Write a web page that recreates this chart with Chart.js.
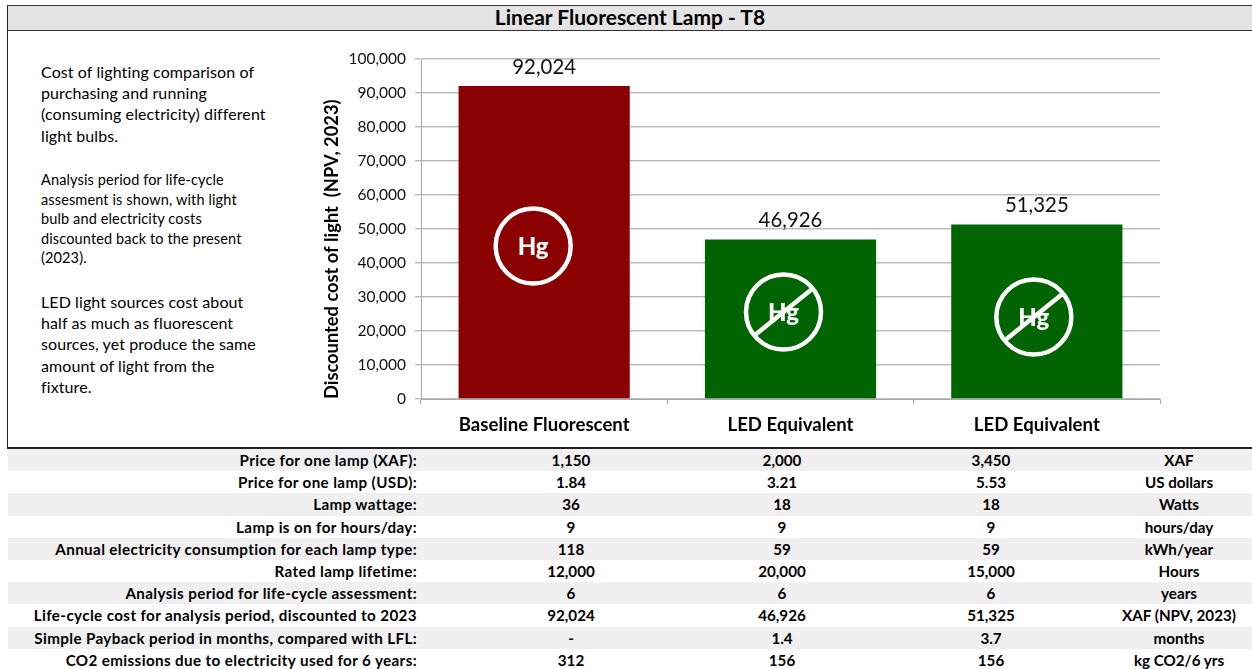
<!DOCTYPE html>
<html><head><meta charset="utf-8">
<style>
html,body{margin:0;padding:0;background:#fff;width:1252px;height:669px;overflow:hidden;font-family:Lato,"Open Sans",sans-serif;color:#000}
#wrap{position:relative;width:1252px;height:669px}
#frame{position:absolute;left:7px;top:5px;width:1245px;height:444px;border-top:1px solid #333;border-left:1px solid #222;border-bottom:2px solid #222;box-sizing:border-box}
#title{position:absolute;left:8px;top:6px;right:0;height:25px;background:#e4e4e4;border-bottom:1px solid #333;text-align:center;font-weight:700;font-size:21px;line-height:21px;box-sizing:border-box}
.p{position:absolute;left:41px;white-space:nowrap}
#p1{top:61px;font-size:16px;line-height:21.2px;letter-spacing:.1px}
#p2{top:170px;font-size:14.5px;line-height:19.5px;letter-spacing:.13px}
#p3{top:291px;font-size:16px;line-height:21.2px;letter-spacing:.1px}
canvas{position:absolute;left:0;top:0}
#table{position:absolute;left:0;top:449px;width:1252px}
.row{position:relative;height:22.2px;font-weight:700;font-size:15.2px;line-height:22.2px;white-space:nowrap}
.row.g{background:linear-gradient(#f0f0f0,#f0f0f0) 8px 0 no-repeat}
.row span{position:absolute;top:0}
.row .l{right:835px;text-align:right;letter-spacing:.38px}
.row .c{width:200px;text-align:center}
</style></head><body>
<div id="wrap">
<div id="frame"></div>
<div id="title"></div>
<div class="p" id="p1"></div><div class="p" id="p2"></div><div class="p" id="p3"></div>
<canvas id="c" width="1252" height="447"></canvas>
<div id="table"></div>
</div>
<script src="https://cdn.jsdelivr.net/npm/chart.js@4/dist/chart.umd.min.js"></script>
<script>
const chartTitle="Linear Fluorescent Lamp - T8";
const categories=["Baseline Fluorescent","LED Equivalent","LED Equivalent"];
const costValues=[92024,46926,51325];
const barColors=["#8b0000","#006400","#006400"];
const mercuryFree=[false,true,true];
const yAxisTitle="Discounted cost of light  (NPV, 2023)";
const noteOne=["Cost of lighting comparison of","purchasing and running","(consuming electricity) different","light bulbs."];
const noteTwo=["Analysis period for life-cycle","assesment is shown, with light","bulb and electricity costs","discounted back to the present","(2023)."];
const noteThree=["LED light sources cost about","half as much as fluorescent","sources, yet produce the same","amount of light from the","fixture."];
const rowLabels=["Price for one lamp (XAF):","Price for one lamp (USD):","Lamp wattage:","Lamp is on for hours/day:","Annual electricity consumption for each lamp type:","Rated lamp lifetime:","Analysis period for life-cycle assessment:","Life-cycle cost for analysis period, discounted to 2023","Simple Payback period in months, compared with LFL:","CO2 emissions due to electricity used for 6 years:"];
const baselineCol=["1,150","1.84","36","9","118","12,000","6","92,024","-","312"];
const ledCol1=["2,000","3.21","18","9","59","20,000","6","46,926","1.4","156"];
const ledCol2=["3,450","5.53","18","9","59","15,000","6","51,325","3.7","156"];
const unitCol=["XAF","US dollars","Watts","hours/day","kWh/year","Hours","years","XAF (NPV, 2023)","months","kg CO2/6 yrs"];

document.getElementById('title').textContent=chartTitle;
document.getElementById('p1').innerHTML=noteOne.join('<br>');
document.getElementById('p2').innerHTML=noteTwo.join('<br>');
document.getElementById('p3').innerHTML=noteThree.join('<br>');
const tb=document.getElementById('table');
const colCenters=[571,782,991,1179];
rowLabels.forEach((lab,i)=>{
  const r=document.createElement('div');r.className='row'+(i%2==0?' g':'');
  const l=document.createElement('span');l.className='l';l.textContent=lab;r.appendChild(l);
  [baselineCol,ledCol1,ledCol2,unitCol].forEach((col,j)=>{
    const s=document.createElement('span');s.className='c';s.style.left=(colCenters[j]-100)+'px';s.textContent=col[i];r.appendChild(s);
  });
  tb.appendChild(r);
});

const FONT='Lato';
const iconShift=[-11,-7,-3], iconY=[246,312,317];
const overlay={id:'overlay',afterDatasetsDraw(chart){
  const ctx=chart.ctx,meta=chart.getDatasetMeta(0);
  ctx.save();
  meta.data.forEach((bar,i)=>{
    ctx.fillStyle='#111';ctx.font='20.4px '+FONT;ctx.textAlign='center';ctx.textBaseline='middle';
    ctx.fillText(costValues[i].toLocaleString('en-US'),bar.x,bar.y-19);
    const cx=bar.x+iconShift[i],cy=iconY[i],r=37.5;
    ctx.fillStyle='#fff';ctx.font='900 24px '+FONT;
    ctx.fillText('Hg',cx,cy+1);
    ctx.strokeStyle='#fff';ctx.lineWidth=4.5;
    ctx.beginPath();ctx.arc(cx,cy,r,0,Math.PI*2);ctx.stroke();
    if(mercuryFree[i]){
      ctx.beginPath();ctx.moveTo(cx+r*Math.cos(-.68),cy+r*Math.sin(-.68));
      ctx.lineTo(cx-r*Math.cos(-.68),cy-r*Math.sin(-.68));ctx.stroke();
    }
  });
  ctx.restore();
}};
new Chart(document.getElementById('c'),{
  type:'bar',
  data:{labels:categories,datasets:[{data:costValues,backgroundColor:barColors,barPercentage:.695,categoryPercentage:1}]},
  plugins:[overlay],
  options:{
    responsive:false,animation:false,
    layout:{padding:{left:321,right:92,top:59,bottom:0}},
    plugins:{legend:{display:false},tooltip:{enabled:false}},
    scales:{
      x:{
        afterFit(s){s.height=48},
        border:{color:'#a8a8a8',width:1},
        grid:{drawOnChartArea:false,color:'#a8a8a8',tickLength:5,offset:true},
        ticks:{color:'#000',font:{family:FONT,size:18.6,weight:'700'},padding:10,maxRotation:0}
      },
      y:{
        min:0,max:100000,
        afterFit(s){s.width=100},
        border:{color:'#a8a8a8',width:1},
        grid:{color:'#bbbbbb',tickLength:6,lineWidth:1.4},
        title:{display:true,align:'start',text:yAxisTitle,color:'#000',font:{family:FONT,size:18.3,weight:'700'},padding:{top:0,bottom:0}},
        ticks:{stepSize:10000,color:'#111',font:{family:FONT,size:15.5},padding:9,callback:v=>v.toLocaleString('en-US')}
      }
    }
  }
});
</script>
</body></html>
